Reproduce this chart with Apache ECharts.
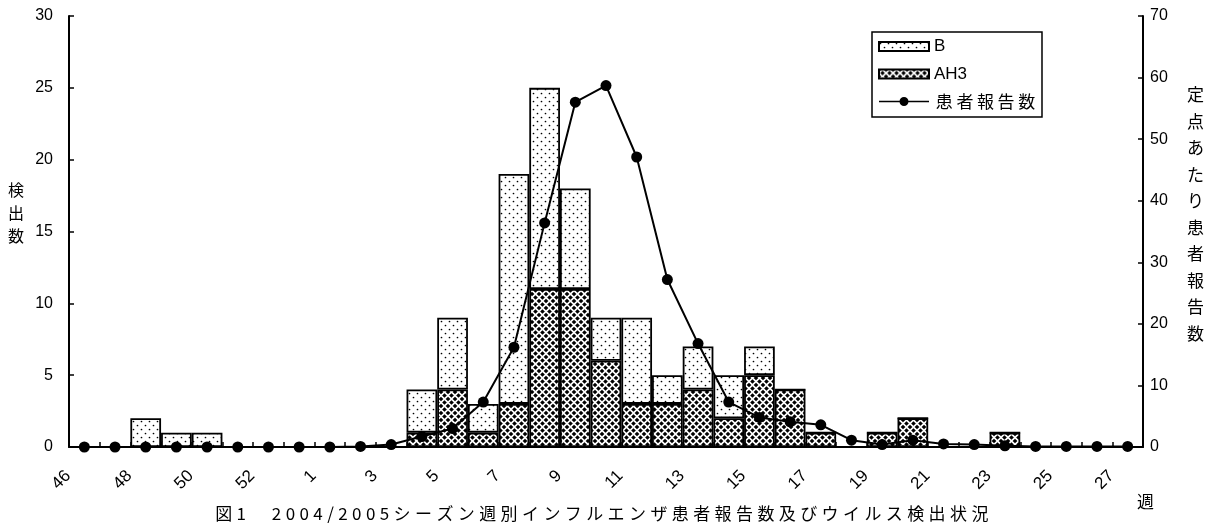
<!DOCTYPE html>
<html><head><meta charset="utf-8">
<script src="https://cdn.jsdelivr.net/npm/echarts@6/dist/echarts.min.js"></script>
<style>html,body{margin:0;padding:0;background:#fff}#c{width:1220px;height:524px}</style>
</head><body><div id="c"></div>
<script>
const weeks = ['46','47','48','49','50','51','52','53','1','2','3','4','5','6','7','8','9','10','11','12','13','14','15','16','17','18','19','20','21','22','23','24','25','26','27'];
const ah3 = [0,0,0,0,0,0,0,0,0,0,0,1,4,1,3,11,11,6,3,3,4,2,5,4,1,0,1,2,0,0,1,0,0,0,0];
const bType = [0,0,2,1,1,0,0,0,0,0,0,3,5,2,16,14,7,3,6,2,3,3,2,0,0,0,0,0,0,0,0,0,0,0,0];
const patients = [0,0,0,0,0,0,0,0,0,0.1,0.4,1.7,3.0,7.3,16.2,36.4,56.0,58.7,47.1,27.2,16.8,7.3,4.8,4.1,3.6,1.1,0.4,1.1,0.5,0.4,0.2,0.1,0.1,0.1,0.1];
const titleText = '図1\u30002004/2005シーズン週別インフルエンザ患者報告数及びウイルス検出状況';
const leftName = '検出数';
const rightName = '定点あたり患者報告数';
const xName = '週';

function dotTile(){
  const c=document.createElement('canvas');c.width=8;c.height=8;
  const g=c.getContext('2d');g.fillStyle='#fff';g.fillRect(0,0,8,8);
  g.fillStyle='#000';
  g.beginPath();g.arc(1.5,1.5,0.85,0,Math.PI*2);g.fill();
  g.beginPath();g.arc(5.5,5.5,0.85,0,Math.PI*2);g.fill();
  return c;
}
function crossTile(){
  const s=7;const c=document.createElement('canvas');c.width=s;c.height=s;
  const g=c.getContext('2d');g.fillStyle='#fff';g.fillRect(0,0,s,s);
  g.fillStyle='#000';
  function dia(cx,cy,r){g.beginPath();g.moveTo(cx,cy-r);g.lineTo(cx+r,cy);g.lineTo(cx,cy+r);g.lineTo(cx-r,cy);g.closePath();g.fill();}
  const r=2.35;
  dia(s/2,s/2,r);dia(0,0,r);dia(s,0,r);dia(0,s,r);dia(s,s,r);
  return c;
}
const CJK = "'Noto Sans CJK JP', sans-serif";
const NUM = "'Liberation Sans', Arial, sans-serif";
const spaced = s => Array.from(s).map(ch => '{c|' + ch + '}').join('');
const lineIcon = 'path://M0,4h50v1.5h-50z M29.5,4.75a4.5,4.5 0 1 1 -9,0a4.5,4.5 0 1 1 9,0z';

const chart = echarts.init(document.getElementById('c'), null, {renderer:'canvas'});
chart.setOption({
  animation:false,
  backgroundColor:'#fff',
  title:{
    text: spaced(titleText), left: 208, top: 500,
    textStyle:{fontWeight:'normal',rich:{c:{fontFamily:CJK,fontSize:17,fontWeight:'normal',color:'#000',padding:[0,2.2,0,2.2]}}}
  },
  graphic:[
    {type:'text', x:24, y:213, style:{text:Array.from(leftName).join('\n'), align:'right', verticalAlign:'middle', font:"16px 'Noto Sans CJK JP'", lineHeight:23, fill:'#000'}},
    {type:'text', x:1187, y:214, style:{text:Array.from(rightName).join('\n'), align:'left', verticalAlign:'middle', font:"17px 'Noto Sans CJK JP'", lineHeight:26.5, fill:'#000'}}
  ],
  legend:{
    orient:'vertical', left:872, top:32,
    data:[{name:'B',icon:'rect'},{name:'AH3',icon:'rect'},{name:'患者報告数',icon:lineIcon}],
    itemWidth:50, itemHeight:9, itemGap:10.5, itemTextGap:7,
    padding:[6,5,7,6], symbolKeepAspect:false,
    borderColor:'#000', borderWidth:1.5, backgroundColor:'#fff', borderRadius:0,
    formatter: n => /[^\x00-\x7f]/.test(n) ? spaced(n) : '{a|' + n + '}',
    textStyle:{fontSize:17,color:'#000',fontFamily:CJK,lineHeight:17,
      rich:{c:{fontFamily:CJK,fontSize:17,color:'#000',padding:[0,1.8,0,1.8]},a:{fontFamily:NUM,fontSize:17,color:'#000'}}},
    selectedMode:false
  },
  grid:{left:69,right:77,top:16,bottom:77},
  xAxis:{
    type:'category', data:weeks, boundaryGap:true,
    name:xName, nameLocation:'end', nameGap:-6,
    nameTextStyle:{fontFamily:CJK,fontSize:17,color:'#000',align:'left',verticalAlign:'top',padding:[46,0,0,0]},
    axisLine:{lineStyle:{color:'#000',width:2}},
    axisTick:{show:true,inside:true,interval:0,length:5,lineStyle:{color:'#000',width:1.5}},
    axisLabel:{interval:1,rotate:45,margin:10,padding:[0,23,0,0],fontSize:17,fontFamily:NUM,color:'#000'}
  },
  yAxis:[{
    type:'value', min:0, max:30, interval:5,
    axisLine:{show:true,lineStyle:{color:'#000',width:2}},
    axisTick:{show:true,inside:true,length:5,lineStyle:{color:'#000',width:1.5}},
    axisLabel:{fontSize:16,fontFamily:NUM,color:'#000',margin:16},
    splitLine:{show:false}
  },{
    type:'value', min:0, max:70, interval:10, position:'right',
    axisLine:{show:true,lineStyle:{color:'#000',width:2}},
    axisTick:{show:true,inside:true,length:5,lineStyle:{color:'#000',width:1.5}},
    axisLabel:{fontSize:16,fontFamily:NUM,color:'#000',margin:7},
    splitLine:{show:false}
  }],
  series:[{
    name:'AH3', type:'bar', stack:'v', data:ah3, barCategoryGap:'0%',
    itemStyle:{color:{image:crossTile(),repeat:'repeat'},borderColor:'#000',borderWidth:1.8}
  },{
    name:'B', type:'bar', stack:'v', data:bType, barCategoryGap:'0%',
    itemStyle:{color:{image:dotTile(),repeat:'repeat'},borderColor:'#000',borderWidth:1.8}
  },{
    name:'患者報告数', type:'line', yAxisIndex:1, data:patients,
    symbol:'circle', symbolSize:11, z:5,
    lineStyle:{color:'#000',width:2}, itemStyle:{color:'#000'}
  }]
});
</script></body></html>
